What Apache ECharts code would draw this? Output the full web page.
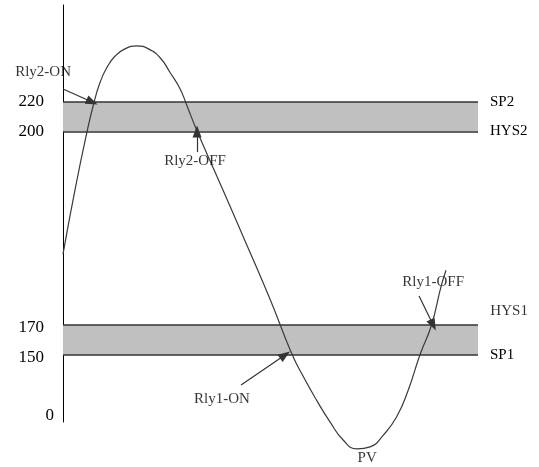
<!DOCTYPE html>
<html>

<head>
  <meta charset="UTF-8">
  <title>Relay hysteresis</title>
  <script src="https://cdn.jsdelivr.net/npm/echarts@6/dist/echarts.min.js"></script>
  <style>
    html, body {
      margin: 0;
      padding: 0;
      background: #fff;
    }

    #chart {
      width: 539px;
      height: 467px;
    }
  </style>
</head>

<body>
  <div id="chart"></div>
  <script>
    // y axis is a schematic (not to scale): tick values and where they sit on the axis
    const tickValues = [0, 150, 170, 200, 220];
    const tickLevels = [6, 67, 97, 290.5, 320];

    // PV curve (time 0..100, value in the same units as the ticks)
    const pvTime = [0, 2.9, 5.8, 7.5, 8.9, 10.5, 12.5, 14.9, 17.8, 20.6, 23.4, 25.8, 28.2, 29.8,
      32.2, 37.8, 43.9, 49.9, 55.1, 57.9, 61.1, 64.3, 67.5, 70.8, 74.0, 77.2, 80.4, 83.2,
      86.0, 88.8, 91.1, 92.3];
    const pvValue = [181, 191, 200, 220, 233, 243, 251, 256, 258, 256, 250, 240, 229, 218,
      201, 192, 183, 174, 151, 97, 39, -14, -59, -81, -76, -47, -2, 64,
      150, 170, 176, 178.5];

    // bands [low, high] and the names of their edges
    const bands = [[150, 170], [200, 220]];
    const edgeValues = [220, 200, 150];
    const edgeNames = ['SP2', 'HYS2', 'SP1'];
    const hysLine = 170;

    // arrows: [fromTime, fromValue, toTime, toValue]
    const arrows = [
      [0, 228.8, 7.0, 220],
      [32.3, 196.8, 32.3, 200],
      [42.9, 76.2, 53.5, 150],
      [85.8, 174.5, 89.2, 170]
    ];
    // notes: [time, value, text]
    const notes = [
      [-4.8, 240.3, 'Rly2-ON'],
      [31.8, 195.4, 'Rly2-OFF'],
      [38.3, 41.8, 'Rly1-ON'],
      [89.2, 176.7, 'Rly1-OFF'],
      [73.3, -103, 'PV'],
      [107.5, 172.2, 'HYS1']
    ];

    const serif = "'Liberation Serif', 'Times New Roman', serif";

    // value -> position on the schematic axis (piecewise linear, extrapolated at both ends)
    function lv(v) {
      let i = 0;
      if (v <= tickValues[0]) i = 0;
      else if (v >= tickValues[tickValues.length - 1]) i = tickValues.length - 2;
      else while (v > tickValues[i + 1]) i++;
      const k = (tickLevels[i + 1] - tickLevels[i]) / (tickValues[i + 1] - tickValues[i]);
      return tickLevels[i] + (v - tickValues[i]) * k;
    }

    const chart = echarts.init(document.getElementById('chart'));

    const edgeLines = edgeValues.map((v, i) => ({ name: edgeNames[i], yAxis: lv(v) }));
    edgeLines.push({ name: '', yAxis: lv(hysLine), label: { show: false } });

    const option = {
      animation: false,
      grid: { left: 63, right: 61, top: 5, bottom: 45 },
      xAxis: { type: 'value', min: 0, max: 100, show: false },
      yAxis: {
        type: 'value',
        min: 0,
        max: 417,
        splitLine: { show: false },
        axisTick: { show: false },
        axisLine: { show: true, lineStyle: { color: '#000', width: 1 } },
        axisLabel: {
          customValues: tickLevels,
          margin: 9,
          color: '#000',
          fontFamily: serif,
          fontSize: 17,
          formatter: function (val) {
            const idx = tickLevels.indexOf(val);
            const v = tickValues[idx];
            if (v === 0) return String(v);
            return (v < 200 ? '{q|' : '{p|') + v + '}';
          },
          rich: {
            p: { padding: [0, 10, 0, 0], fontFamily: serif, fontSize: 17, color: '#000' },
            q: { padding: [5, 10, 0, 0], fontFamily: serif, fontSize: 17, color: '#000' }
          }
        }
      },
      series: [
        {
          type: 'line',
          z: 1,
          data: [],
          silent: true,
          markArea: {
            silent: true,
            itemStyle: { color: '#c0c0c0' },
            data: bands.map(b => [{ xAxis: 0, yAxis: lv(b[0]) }, { xAxis: 100, yAxis: lv(b[1]) }])
          },
          markLine: {
            silent: true,
            symbol: 'none',
            lineStyle: { color: '#333', width: 1.5, type: 'solid' },
            label: {
              position: 'end',
              distance: 12,
              color: '#000',
              fontFamily: serif,
              fontSize: 15,
              formatter: p => p.name
            },
            data: edgeLines
          }
        },
        {
          type: 'line',
          name: 'PV',
          z: 3,
          clip: false,
          smooth: 0.5,
          symbol: 'none',
          lineStyle: { color: '#3a3a3a', width: 1.2 },
          data: pvTime.map((t, i) => [t, lv(pvValue[i])])
        },
        {
          type: 'line',
          z: 4,
          data: [],
          markLine: {
            silent: true,
            symbol: ['none', 'triangle'],
            symbolSize: [9, 12],
            lineStyle: { color: '#333', width: 1.2, type: 'solid' },
            itemStyle: { color: '#000' },
            label: { show: false },
            data: arrows.map(a => [{ coord: [a[0], lv(a[1])] }, { coord: [a[2], lv(a[3])] }])
          }
        },
        {
          type: 'scatter',
          z: 5,
          clip: false,
          symbolSize: 1,
          itemStyle: { color: 'rgba(0,0,0,0)' },
          label: {
            show: true,
            position: 'inside',
            color: '#000',
            fontFamily: serif,
            fontSize: 15,
            formatter: p => p.data[2]
          },
          data: notes.map(n => [n[0], lv(n[1]), n[2]])
        }
      ]
    };

    chart.setOption(option);
  </script>
</body>

</html>
